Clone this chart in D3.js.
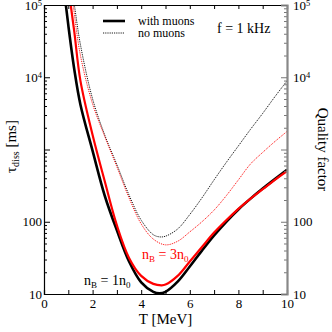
<!DOCTYPE html>
<html>
<head>
<meta charset="utf-8">
<script src="https://cdn.jsdelivr.net/npm/d3@7"></script>
<style>
  body { margin: 0; background: #fff; }
  text { font-family: "Liberation Serif", serif; }
</style>
</head>
<body>
<svg id="chart" width="332" height="332"></svg>
<script>
// with muons, nB = 1 n0 (thick black)
const tempMu1 = [0.8, 0.9, 1, 1.25, 1.5, 2, 2.5, 3, 3.5, 4, 4.5, 4.75, 5, 5.5, 6, 6.5, 7, 7.5, 8, 8.5, 9, 9.5, 10];
const tauMu1  = [190000, 100000, 52500, 12600, 4170, 955, 229, 76, 28.2, 14.5, 10.7, 10.2, 10.7, 14.8, 24, 39.8, 64.6, 100, 148, 209, 288, 389, 525];
// with muons, nB = 3 n0 (thick red)
const tempMu3 = [1.0, 1.1, 1.25, 1.5, 2, 2.5, 3, 3.5, 4, 4.5, 4.85, 5, 5.5, 6, 6.5, 7, 7.5, 8, 8.5, 9, 9.5, 10];
const tauMu3  = [190000, 100000, 41700, 8900, 1585, 363, 89, 31.6, 17.8, 13.8, 13.2, 13.5, 17.8, 28.2, 44.7, 70.8, 105, 151, 209, 282, 380, 501];
// no muons, nB = 1 n0 (dotted black)
const tempNo1 = [1.15, 1.25, 1.5, 2, 2.5, 3, 3.5, 4, 4.5, 4.77, 5, 5.5, 6, 6.5, 7, 7.5, 8, 8.5, 9, 9.5, 10];
const tauNo1  = [166000, 100000, 28200, 5010, 1585, 617, 234, 105, 66.1, 61.7, 63.1, 79.4, 126, 214, 380, 661, 1122, 1905, 3162, 5370, 8913];
// no muons, nB = 3 n0 (dotted red)
const tempNo3 = [1.1, 1.2, 1.5, 2, 2.5, 3, 3.5, 4, 4.5, 5, 5.5, 6, 6.5, 7, 7.5, 8, 8.5, 9, 9.5, 10];
const tauNo3  = [178000, 100000, 20000, 4266, 1514, 575, 214, 93.3, 57.5, 47.9, 53.7, 72.4, 100, 145, 229, 380, 631, 912, 1288, 1778];

const xTickValues = [0, 1, 2, 3, 4, 5, 6, 7, 8, 9, 10];
const xTickLabels = ['0', '', '2', '', '4', '', '6', '', '8', '', '10'];
const yMajor = [10, 100, 1000, 10000, 100000];
const yMajorLabels = ['10', '100', '', '10^4', '10^5'];

const margin = { top: 5, right: 45, bottom: 38, left: 44 };
const W = 332, H = 332;
const svg = d3.select('#chart');

const x = d3.scaleLinear().domain([0, 10]).range([margin.left, W - margin.right]);
const y = d3.scaleLog().domain([10, 100000]).range([H - margin.bottom, margin.top]);

svg.append('defs').append('clipPath').attr('id', 'plot-clip')
  .append('rect')
  .attr('x', x(0)).attr('y', y(100000))
  .attr('width', x(10) - x(0)).attr('height', y(10) - y(100000));

const line = d3.line()
  .x(d => x(d[0]))
  .y(d => y(d[1]))
  .curve(d3.curveCatmullRom.alpha(0.5));

const series = [
  { t: tempNo1, v: tauNo1, color: '#000', width: 0.9, dash: '1.2,1' },
  { t: tempNo3, v: tauNo3, color: '#ff0000', width: 0.9, dash: '1.2,1' },
  { t: tempMu1, v: tauMu1, color: '#000', width: 2.6, dash: null },
  { t: tempMu3, v: tauMu3, color: '#ff0000', width: 2.2, dash: null }
];

const curves = svg.append('g').attr('clip-path', 'url(#plot-clip)');
series.forEach(s => {
  curves.append('path')
    .datum(d3.zip(s.t, s.v))
    .attr('fill', 'none')
    .attr('stroke', s.color)
    .attr('stroke-width', s.width)
    .attr('stroke-dasharray', s.dash)
    .attr('d', line);
});

const isMajor = v => yMajor.some(m => Math.abs(m - v) / m < 1e-9);
const yMinor = y.ticks().filter(v => !isMajor(v));

function powerLabels(g, size) {
  g.selectAll('.tick text').each(function () {
    const t = d3.select(this);
    const s = t.text();
    if (s.includes('^')) {
      const [base, exp] = s.split('^');
      t.text(base);
      t.append('tspan').attr('font-size', size * 0.65).attr('dy', '-0.45em').text(exp);
    }
  });
}

function styleAxis(g, color, fontSize) {
  g.selectAll('.tick line').attr('stroke', color);
  g.selectAll('.tick text').attr('fill', '#000').attr('font-size', fontSize)
    .style('font-family', '"Liberation Serif", serif');
}

// bottom axis
svg.append('g')
  .attr('transform', `translate(0,${y(10)})`)
  .call(d3.axisBottom(x).tickValues(xTickValues).tickSize(-4).tickPadding(5)
    .tickFormat((d, i) => xTickLabels[i]))
  .call(g => g.select('.domain').attr('stroke', '#000').attr('stroke-width', 1.2))
  .call(g => styleAxis(g, '#000', 13));

// top frame
svg.append('g')
  .attr('transform', `translate(0,${y(100000)})`)
  .call(d3.axisTop(x).tickValues(xTickValues).tickSize(-4).tickFormat(''))
  .call(g => g.select('.domain').attr('stroke', '#000').attr('stroke-width', 1.2))
  .call(g => styleAxis(g, '#000', 13));

// left axis
svg.append('g')
  .attr('transform', `translate(${x(0)},0)`)
  .call(d3.axisLeft(y).tickValues(yMinor).tickSize(-3).tickFormat(''))
  .call(g => g.select('.domain').remove())
  .call(g => styleAxis(g, '#000', 13));
svg.append('g')
  .attr('transform', `translate(${x(0)},0)`)
  .call(d3.axisLeft(y).tickValues(yMajor).tickSize(-6).tickPadding(2)
    .tickFormat((d, i) => yMajorLabels[i]))
  .call(g => g.select('.domain').attr('stroke', '#000').attr('stroke-width', 1.2))
  .call(g => styleAxis(g, '#000', 13))
  .call(g => powerLabels(g, 13));

// right axis (quality factor)
svg.append('g')
  .attr('transform', `translate(${x(10)},0)`)
  .call(d3.axisRight(y).tickValues(yMinor).tickSize(-3).tickFormat(''))
  .call(g => g.select('.domain').remove())
  .call(g => styleAxis(g, '#777', 13));
svg.append('g')
  .attr('transform', `translate(${x(10)},0)`)
  .call(d3.axisRight(y).tickValues(yMajor).tickSize(-6).tickPadding(6)
    .tickFormat((d, i) => yMajorLabels[i]))
  .call(g => g.select('.domain').attr('stroke', '#888').attr('stroke-width', 2.2))
  .call(g => styleAxis(g, '#777', 13))
  .call(g => powerLabels(g, 13));

// axis titles
svg.append('text')
  .attr('x', (x(0) + x(10)) / 2).attr('y', 324)
  .attr('text-anchor', 'middle').attr('font-size', 15)
  .text('T [MeV]');

const yTitle = svg.append('text')
  .attr('transform', `translate(16,${(y(10) + y(100000)) / 2 - 3}) rotate(-90)`)
  .attr('text-anchor', 'middle').attr('font-size', 15);
yTitle.append('tspan').text('τ');
yTitle.append('tspan').attr('font-size', 10).attr('dy', 3).text('diss');
yTitle.append('tspan').attr('dy', -3).text(' [ms]');

svg.append('text')
  .attr('transform', `translate(318,${(y(10) + y(100000)) / 2}) rotate(90)`)
  .attr('text-anchor', 'middle').attr('font-size', 15)
  .text('Quality factor');

// legend
const legend = svg.append('g');
legend.append('line').attr('x1', 103).attr('x2', 125).attr('y1', 21).attr('y2', 21)
  .attr('stroke', '#000').attr('stroke-width', 2.6);
legend.append('line').attr('x1', 103).attr('x2', 125).attr('y1', 33).attr('y2', 33)
  .attr('stroke', '#000').attr('stroke-width', 0.9).attr('stroke-dasharray', '1.2,1');
legend.append('text').attr('x', 138).attr('y', 25).attr('font-size', 12).text('with muons');
legend.append('text').attr('x', 138).attr('y', 37).attr('font-size', 12).text('no muons');

svg.append('text').attr('x', 217).attr('y', 33).attr('font-size', 14).text('f = 1 kHz');

// density labels
function densityLabel(px, py, mult, color) {
  const t = svg.append('text').attr('x', px).attr('y', py).attr('font-size', 14).attr('fill', color);
  t.append('tspan').text('n');
  t.append('tspan').attr('font-size', 9).attr('dy', 3).text('B');
  t.append('tspan').attr('dy', -3).text(` = ${mult}n`);
  t.append('tspan').attr('font-size', 9).attr('dy', 3).text('0');
}
densityLabel(84, 285, 1, '#000');
densityLabel(142, 259, 3, '#ff0000');
</script>
</body>
</html>
